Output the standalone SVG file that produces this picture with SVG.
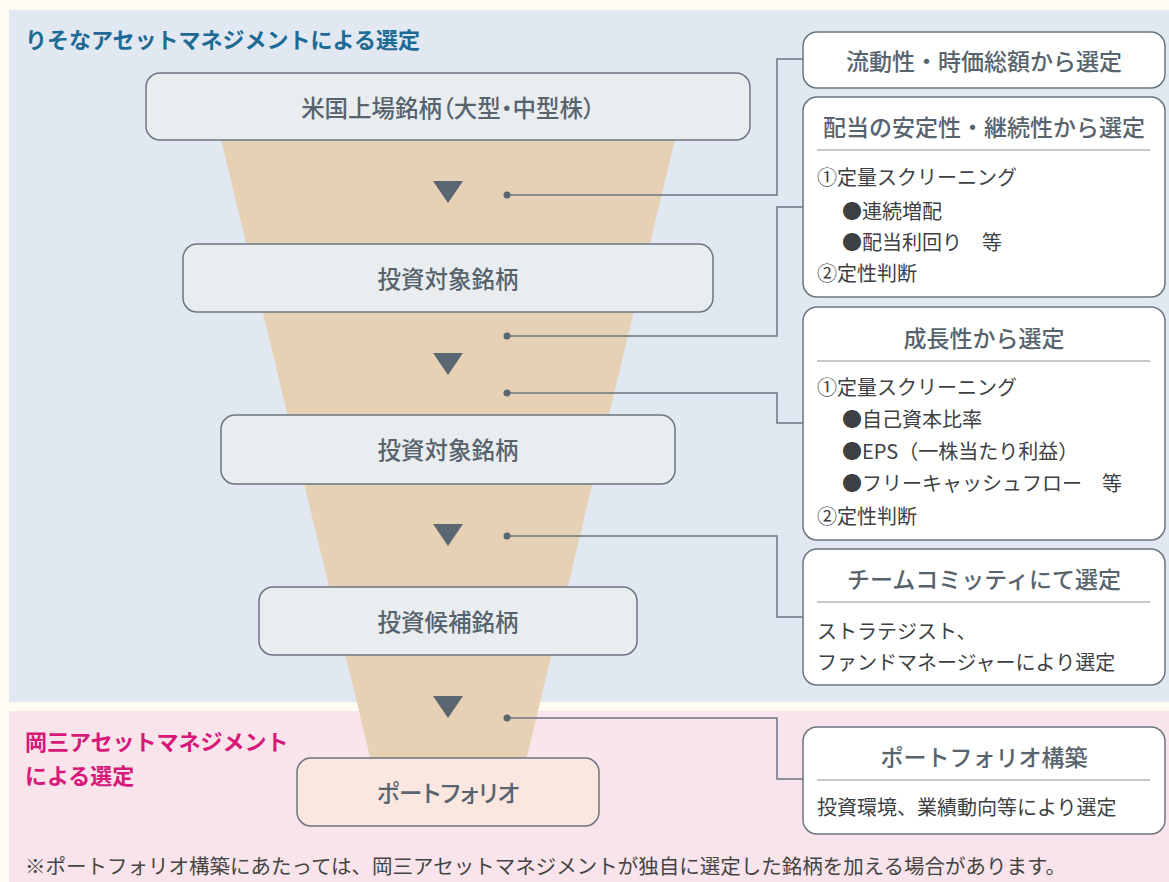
<svg xmlns="http://www.w3.org/2000/svg" width="1169" height="882" viewBox="0 0 1169 882">
<style>
text{font-family:"Noto Sans CJK JP","Noto Sans",sans-serif;dominant-baseline:central}
.lbl{font-size:23.5px;font-weight:500;fill:#58646d;text-anchor:middle;font-feature-settings:"palt"}
.ttl{font-size:23px;font-weight:500;fill:#58646d;text-anchor:middle}
.body{font-size:20px;fill:#3d4043}
.box{fill:#e9edf0;stroke:#6b7680;stroke-width:1.5}
.rbox{fill:#ffffff;stroke:#6b7680;stroke-width:1.5}
.div{stroke:#8a939b;stroke-width:1.2}
.con{fill:none;stroke:#6b7680;stroke-width:1.5}
.dot{fill:#5b6770}
.tri{fill:#5b6770}
</style>
<rect x="0" y="0" width="1169" height="882" fill="#fffdf3"/>
<rect x="9" y="10" width="1160" height="692" fill="#e1e8f1"/>
<rect x="9" y="711" width="1160" height="171" fill="#f8e4ea"/>
<polygon points="214,110 682,110 519,790 378,790" fill="#e6d1b4"/>
<text x="25" y="38" style="font-size:22px;font-weight:700;fill:#1d6b94">りそなアセットマネジメントによる選定</text>
<text x="25" y="740" style="font-size:22px;font-weight:700;fill:#d6197a">岡三アセットマネジメント</text>
<text x="25" y="774" style="font-size:22px;font-weight:700;fill:#d6197a">による選定</text>
<text x="25" y="865" style="font-size:20.5px;fill:#444">※ポートフォリオ構築にあたっては、岡三アセットマネジメントが独自に選定した銘柄を加える場合があります。</text>
<g id="connectors">
<polyline class="con" points="507,195 777,195 777,59 803,59"/>
<polyline class="con" points="507,336 777,336 777,207 803,207"/>
<polyline class="con" points="507,393 777,393 777,423 803,423"/>
<polyline class="con" points="507,536 777,536 777,617 803,617"/>
<polyline class="con" points="507,718 777,718 777,779 803,779"/>
<circle class="dot" cx="507" cy="195" r="3.5"/>
<circle class="dot" cx="507" cy="336" r="3.5"/>
<circle class="dot" cx="507" cy="393" r="3.5"/>
<circle class="dot" cx="507" cy="536" r="3.5"/>
<circle class="dot" cx="507" cy="718" r="3.5"/>
<polygon class="tri" points="433,181 463,181 448,203"/>
<polygon class="tri" points="433,353 463,353 448,375"/>
<polygon class="tri" points="433,524 463,524 448,546"/>
<polygon class="tri" points="433,696 463,696 448,718"/>
</g>
<g id="n1"><rect class="box" x="146" y="73" width="604" height="67" rx="14"/><text class="lbl" x="448" y="107">米国上場銘柄（大型・中型株）</text></g>
<g id="n2"><rect class="box" x="183" y="244" width="530" height="68" rx="14"/><text class="lbl" x="448" y="278">投資対象銘柄</text></g>
<g id="n3"><rect class="box" x="221" y="415" width="454" height="69" rx="14"/><text class="lbl" x="448" y="449">投資対象銘柄</text></g>
<g id="n4"><rect class="box" x="259" y="587" width="378" height="68" rx="14"/><text class="lbl" x="448" y="621">投資候補銘柄</text></g>
<g id="n5"><rect x="297" y="758" width="302" height="68" rx="14" fill="#fce6e0" stroke="#6b7680" stroke-width="1.5"/><text class="lbl" x="448" y="792">ポートフォリオ</text></g>
<g id="rA"><rect class="rbox" x="803" y="32" width="362" height="56" rx="14"/><text class="ttl" x="984" y="60">流動性・時価総額から選定</text></g>
<g id="rB"><rect class="rbox" x="803" y="97" width="362" height="200" rx="14"/><text class="ttl" x="984" y="126">配当の安定性・継続性から選定</text><line class="div" x1="817" y1="150" x2="1150" y2="150"/>
<text class="body" x="817" y="176">①定量スクリーニング</text>
<text class="body" x="842" y="210">●連続増配</text>
<text class="body" x="842" y="241">●配当利回り　等</text>
<text class="body" x="817" y="272">②定性判断</text></g>
<g id="rC"><rect class="rbox" x="803" y="307" width="362" height="233" rx="14"/><text class="ttl" x="984" y="337">成長性から選定</text><line class="div" x1="817" y1="361" x2="1150" y2="361"/>
<text class="body" x="817" y="386">①定量スクリーニング</text>
<text class="body" x="842" y="418">●自己資本比率</text>
<text class="body" x="842" y="450">●EPS（一株当たり利益）</text>
<text class="body" x="842" y="482">●フリーキャッシュフロー　等</text>
<text class="body" x="817" y="515">②定性判断</text></g>
<g id="rD"><rect class="rbox" x="803" y="549" width="362" height="136" rx="14"/><text class="ttl" x="984" y="578">チームコミッティにて選定</text><line class="div" x1="817" y1="602" x2="1150" y2="602"/>
<text class="body" x="817" y="630">ストラテジスト、</text>
<text class="body" x="817" y="661">ファンドマネージャーにより選定</text></g>
<g id="rE"><rect class="rbox" x="803" y="727" width="362" height="107" rx="14"/><text class="ttl" x="984" y="756">ポートフォリオ構築</text><line class="div" x1="817" y1="780" x2="1150" y2="780"/>
<text class="body" x="817" y="806">投資環境、業績動向等により選定</text></g>
</svg>
